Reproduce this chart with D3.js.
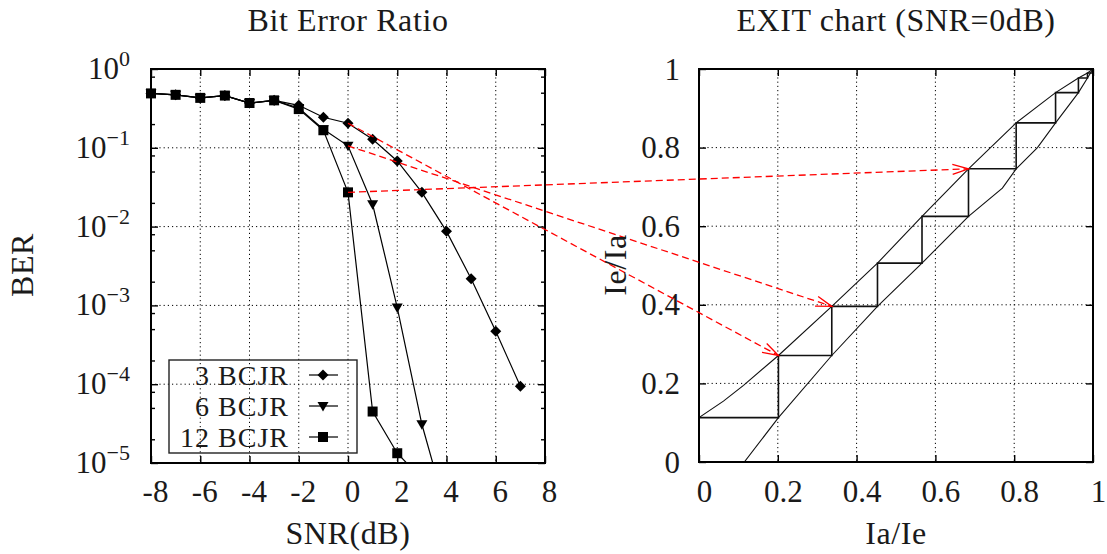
<!DOCTYPE html>
<html><head><meta charset="utf-8">
<script src="https://cdnjs.cloudflare.com/ajax/libs/d3/7.8.5/d3.min.js"></script>
<style>
body{margin:0;background:#fff}
svg{display:block}
text{font-family:'Liberation Serif',serif;fill:#1a1a1a}
</style>
</head><body>
<svg id="c" width="1107" height="554"></svg>
<script>
// ---------- Data: Bit Error Ratio ----------
const snr = [-8,-7,-6,-5,-4,-3,-2,-1,0,1,2,3,4,5,6,7];
const ber3  = [0.49,0.47,0.43,0.46,0.37,0.40,0.346,0.244,0.205,0.128,0.068,0.0272,0.0087,0.00218,0.00047,0.000094];
const ber6  = [0.49,0.47,0.43,0.46,0.37,0.40,0.32,0.172,0.106,0.0192,0.00094,0.000031,0.0000024];
const ber12 = [0.49,0.47,0.43,0.46,0.37,0.40,0.31,0.167,0.0272,0.000045,0.0000133,0.0000063];
const seriesNames = ["3 BCJR","6 BCJR","12 BCJR"];
const seriesMarkers = ["diamond","triangle","square"];
const xTicksL = [-8,-6,-4,-2,0,2,4,6,8];
const yTicksL = [1,1e-1,1e-2,1e-3,1e-4,1e-5];
const yMinorL = [0.8,0.5,0.2,0.08,0.05,0.02,0.008,0.005,0.002,0.0008,0.0005,0.0002,0.00008,0.00005,0.00002];

// ---------- Data: EXIT chart ----------
const upperIa = [0,0.062,0.113,0.2016,0.337,0.453,0.566,0.684,0.805,0.905,0.963,0.986,1];
const upperIe = [0.113,0.155,0.195,0.271,0.396,0.506,0.625,0.746,0.863,0.940,0.977,0.990,1];
const lowerIa = [0.115,0.2016,0.337,0.453,0.566,0.684,0.77,0.805,0.859,0.905,0.963,0.986,1];
const lowerIe = [0,0.113,0.271,0.396,0.506,0.625,0.697,0.746,0.80,0.863,0.940,0.977,1];
const stairIa = [0.2016,0.337,0.453,0.566,0.684,0.805,0.905,0.963,0.986,1];
const stairIe = [0.113,0.271,0.396,0.506,0.625,0.746,0.863,0.940,0.977,0.990,1];
const ticksR = [0,0.2,0.4,0.6,0.8,1];
const tickLabelsR = ["0","0.2","0.4","0.6","0.8","1"];

// ---------- Arrows (BER at SNR=0 -> EXIT trajectory point) ----------
const arrowSNR = 0;
const arrowToIa = [0.2016,0.337,0.684];
const arrowToIe = [0.271,0.396,0.746];

// ---------- Layout ----------
const svg = d3.select("#c");
const L = {x0:151,x1:545,y0:69,y1:463};
const R = {x0:699,x1:1093,y0:69,y1:462};
const xL = d3.scaleLinear([-8,8],[L.x0,L.x1]);
const yL = d3.scaleLog([1e-5,1],[L.y1,L.y0]);
const xR = d3.scaleLinear([0,1],[R.x0,R.x1]);
const yR = d3.scaleLinear([0,1],[R.y1,R.y0]);

const defs = svg.append("defs");
defs.append("clipPath").attr("id","clipL").append("rect")
  .attr("x",L.x0).attr("y",L.y0).attr("width",L.x1-L.x0).attr("height",L.y1-L.y0);
defs.append("clipPath").attr("id","clipR").append("rect")
  .attr("x",R.x0).attr("y",R.y0).attr("width",R.x1-R.x0).attr("height",R.y1-R.y0);
defs.append("marker").attr("id","ah").attr("markerUnits","userSpaceOnUse")
  .attr("markerWidth",20).attr("markerHeight",14).attr("refX",17).attr("refY",6)
  .attr("orient","auto").attr("viewBox","0 0 20 12")
  .append("path").attr("d","M1,1 L17,6 L1,11").attr("fill","none")
  .attr("stroke","#f00").attr("stroke-width",1.3);

const gridStyle = sel => sel.attr("stroke","#000").attr("stroke-width",1)
  .attr("stroke-dasharray","1.2,3");

// ---------- Left plot grid ----------
const gL = svg.append("g");
gL.append("g").selectAll("line").data(xTicksL.slice(1,-1)).join("line")
  .attr("x1",d=>xL(d)).attr("x2",d=>xL(d)).attr("y1",L.y0).attr("y2",L.y1).call(gridStyle);
gL.append("g").selectAll("line").data(yTicksL.slice(1,-1)).join("line")
  .attr("y1",d=>yL(d)).attr("y2",d=>yL(d)).attr("x1",L.x0).attr("x2",L.x1).call(gridStyle);

// ---------- Right plot grid ----------
const gR = svg.append("g");
gR.append("g").selectAll("line").data(ticksR.slice(1,-1)).join("line")
  .attr("x1",d=>xR(d)).attr("x2",d=>xR(d)).attr("y1",R.y0).attr("y2",R.y1).call(gridStyle);
gR.append("g").selectAll("line").data(ticksR.slice(1,-1)).join("line")
  .attr("y1",d=>yR(d)).attr("y2",d=>yR(d)).attr("x1",R.x0).attr("x2",R.x1).call(gridStyle);

// ---------- Axes helper ----------
function styleAxis(g){
  g.select(".domain").remove();
  g.selectAll(".tick line").attr("stroke","#000").attr("stroke-width",1.4);
  g.selectAll("text").attr("font-size",31).attr("font-family","'Liberation Serif',serif").attr("fill","#1a1a1a");
}
// Left plot axes
svg.append("g").attr("transform",`translate(0,${L.y1})`)
  .call(d3.axisBottom(xL).tickValues(xTicksL).tickSize(-7).tickFormat(d=>String(d)))
  .call(styleAxis).call(g=>g.selectAll("text").attr("y",39).attr("dy",0).attr("dx",4));
svg.append("g").attr("transform",`translate(0,${L.y0})`)
  .call(d3.axisTop(xL).tickValues(xTicksL).tickSize(-7).tickFormat(""))
  .call(styleAxis);
svg.append("g").attr("transform",`translate(${L.x0},0)`)
  .call(d3.axisLeft(yL).tickValues(yTicksL).tickSize(-7).tickFormat(""))
  .call(styleAxis);
svg.append("g").attr("transform",`translate(${L.x0},0)`)
  .call(d3.axisLeft(yL).tickValues(yMinorL).tickSize(-4).tickFormat(""))
  .call(styleAxis);
svg.append("g").attr("transform",`translate(${L.x1},0)`)
  .call(d3.axisRight(yL).tickValues(yTicksL).tickSize(-7).tickFormat(""))
  .call(styleAxis);
svg.append("g").attr("transform",`translate(${L.x1},0)`)
  .call(d3.axisRight(yL).tickValues(yMinorL).tickSize(-4).tickFormat(""))
  .call(styleAxis);
// log labels with superscripts
const yLab = svg.append("g").selectAll("text").data(yTicksL).join("text")
  .attr("x",130).attr("y",d=>yL(d)+10).attr("text-anchor","end").attr("font-size",31);
yLab.append("tspan").text("10");
yLab.append("tspan").attr("dy",-13).attr("font-size",22)
  .text(d=>{const e=Math.round(Math.log10(d));return e===0?"0":"\u2212"+(-e);});

// Right plot axes
svg.append("g").attr("transform",`translate(0,${R.y1})`)
  .call(d3.axisBottom(xR).tickValues(ticksR).tickSize(-7).tickFormat((d,i)=>tickLabelsR[i]))
  .call(styleAxis).call(g=>g.selectAll("text").attr("y",40).attr("dy",0).attr("dx",5));
svg.append("g").attr("transform",`translate(0,${R.y0})`)
  .call(d3.axisTop(xR).tickValues(ticksR).tickSize(-7).tickFormat(""))
  .call(styleAxis);
svg.append("g").attr("transform",`translate(${R.x0},0)`)
  .call(d3.axisLeft(yR).tickValues(ticksR).tickSize(-7).tickFormat((d,i)=>tickLabelsR[i]))
  .call(styleAxis).call(g=>g.selectAll("text").attr("x",-19).attr("dy",0).attr("y",10));
svg.append("g").attr("transform",`translate(${R.x1},0)`)
  .call(d3.axisRight(yR).tickValues(ticksR).tickSize(-7).tickFormat(""))
  .call(styleAxis);

// ---------- EXIT curves ----------
const lineR = d3.line().x(d=>xR(d[0])).y(d=>yR(d[1]));
const gEx = svg.append("g").attr("clip-path","url(#clipR)");
gEx.append("path").datum(upperIa.map((v,i)=>[v,upperIe[i]])).attr("d",lineR)
  .attr("fill","none").attr("stroke","#111").attr("stroke-width",1.1);
gEx.append("path").datum(lowerIa.map((v,i)=>[v,lowerIe[i]])).attr("d",lineR)
  .attr("fill","none").attr("stroke","#111").attr("stroke-width",1.1);
const stairPts = [[0,stairIe[0]]];
stairIa.forEach((a,i)=>{stairPts.push([a,stairIe[i]]);stairPts.push([a,stairIe[i+1]]);});
gEx.append("path").datum(stairPts).attr("d",lineR)
  .attr("fill","none").attr("stroke","#111").attr("stroke-width",1.6);

// ---------- Frames ----------
[L,R].forEach(p=>svg.append("rect").attr("x",p.x0).attr("y",p.y0)
  .attr("width",p.x1-p.x0).attr("height",p.y1-p.y0)
  .attr("fill","none").attr("stroke","#000").attr("stroke-width",2));

// ---------- BER series ----------
const allSeries = [ber3,ber6,ber12];
const lineL = d3.line().x(d=>xL(d[0])).y(d=>yL(d[1]));
const markerPath = {
  diamond: "M0,-5.5L5.5,0L0,5.5L-5.5,0Z",
  triangle: "M-5.5,-4L5.5,-4L0,5.5Z",
  square: "M-5,-5L5,-5L5,5L-5,5Z"
};
const gD = svg.append("g");
allSeries.forEach((vals,si)=>{
  const pts = vals.map((v,i)=>[snr[i],v]);
  gD.append("path").datum(pts).attr("d",lineL).attr("clip-path","url(#clipL)")
    .attr("fill","none").attr("stroke","#000").attr("stroke-width",1.2);
  gD.append("g").selectAll("path").data(pts.filter(p=>p[1]>=1e-5)).join("path")
    .attr("transform",p=>`translate(${xL(p[0])},${yL(p[1])})`)
    .attr("d",markerPath[seriesMarkers[si]]).attr("fill","#000");
});

// ---------- Legend ----------
const leg = svg.append("g");
leg.append("rect").attr("x",169).attr("y",360).attr("width",188).attr("height",93)
  .attr("fill","none").attr("stroke","#222").attr("stroke-width",1.4);
seriesNames.forEach((n,i)=>{
  const cy = 375 + i*31;
  leg.append("text").attr("x",289).attr("y",cy+10).attr("text-anchor","end")
    .attr("font-size",28).attr("letter-spacing",1).text(n);
  leg.append("line").attr("x1",309).attr("x2",338).attr("y1",cy).attr("y2",cy)
    .attr("stroke","#000").attr("stroke-width",1.2);
  leg.append("path").attr("transform",`translate(323,${cy})`)
    .attr("d",markerPath[seriesMarkers[i]]).attr("fill","#000");
});

// ---------- Red arrows ----------
const i0 = snr.indexOf(arrowSNR);
allSeries.forEach((vals,si)=>{
  svg.append("line")
    .attr("x1",xL(arrowSNR)).attr("y1",yL(vals[i0]))
    .attr("x2",xR(arrowToIa[si])).attr("y2",yR(arrowToIe[si]))
    .attr("stroke","#f00").attr("stroke-width",1.3).attr("stroke-dasharray","7,4")
    .attr("marker-end","url(#ah)");
});

// ---------- Titles and axis labels ----------
const big = sel => sel.attr("text-anchor","middle").attr("font-size",32).attr("letter-spacing",0.6);
svg.append("text").attr("x",348).attr("y",31).call(big).text("Bit Error Ratio");
svg.append("text").attr("x",896).attr("y",31).call(big).text("EXIT chart (SNR=0dB)");
svg.append("text").attr("x",348).attr("y",544).call(big).text("SNR(dB)");
svg.append("text").attr("x",896).attr("y",544).call(big).text("Ia/Ie");
svg.append("text").attr("transform","translate(33,265) rotate(-90)").call(big).text("BER");
svg.append("text").attr("transform","translate(626,265) rotate(-90)").call(big).text("Ie/Ia");
</script>
</body></html>
